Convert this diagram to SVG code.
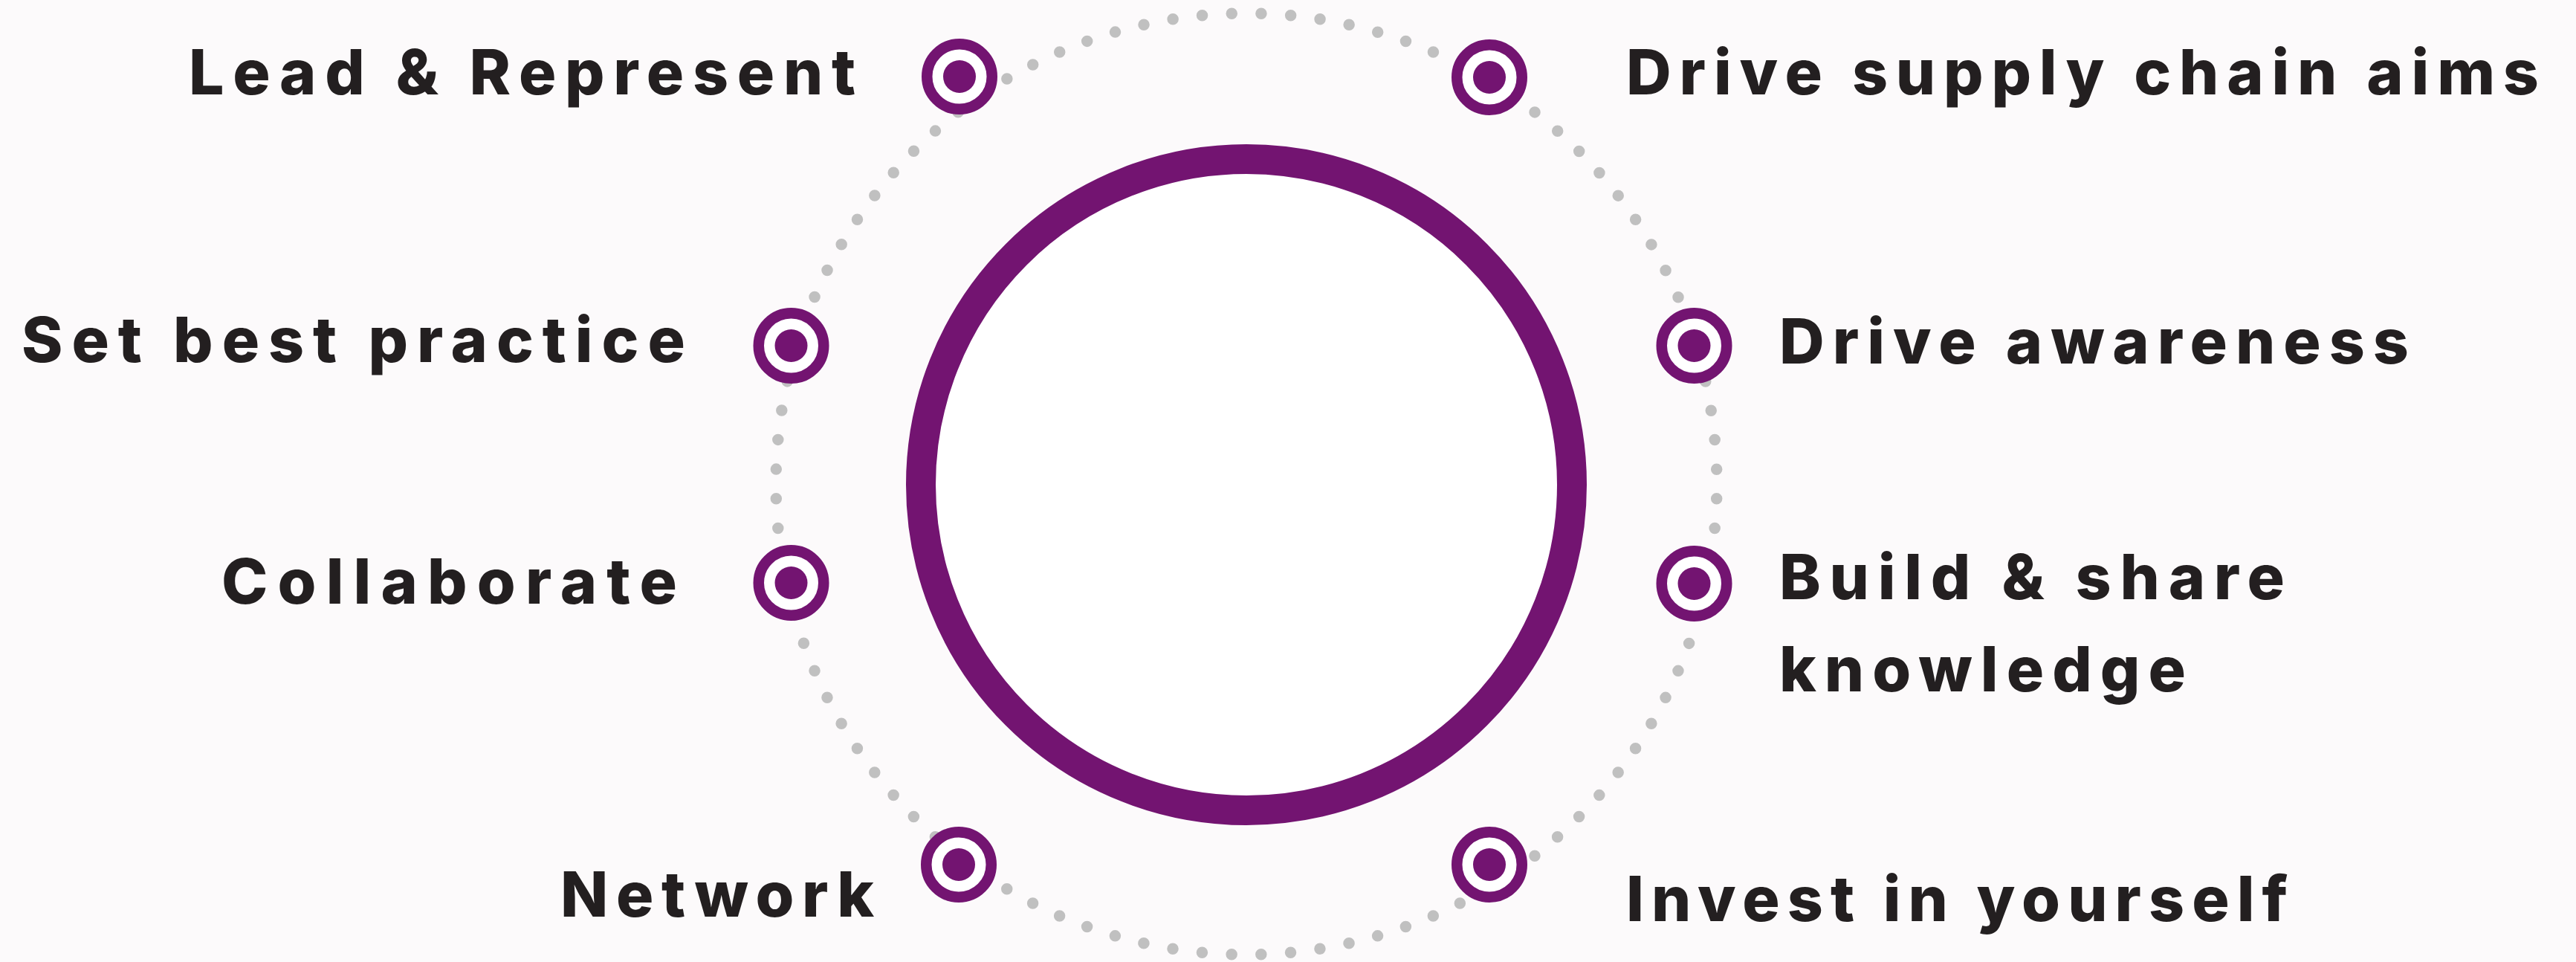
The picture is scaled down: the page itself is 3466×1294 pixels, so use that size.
<svg xmlns="http://www.w3.org/2000/svg" width="3466" height="1294" viewBox="0 0 3466 1294">
  <style>
    .bg { fill: #FCFAFB; }
    .orbit { fill: none; stroke: #C0C0C0; stroke-width: 15.5; stroke-linecap: round; stroke-dasharray: 0 39.77; stroke-dashoffset: 19.9; }
    .hub { fill: #FFFFFF; stroke: #731471; stroke-width: 40; }
    .ring { fill: #FFFFFF; stroke: #731471; stroke-width: 14.5; }
    .dot { fill: #731471; }
    .label { font-family: "Inter", "Liberation Sans", sans-serif; font-weight: 800; font-size: 84px; fill: #231F20; }
  </style>
  <defs>
    <g id="target">
      <circle class="ring" cx="0" cy="0" r="43.75"/>
      <circle class="dot" cx="0" cy="0" r="22"/>
    </g>
  </defs>
  <rect class="bg" x="0" y="0" width="3466" height="1294"/>

  <g id="connectors">
    <circle class="orbit" cx="1677" cy="651" r="633"/>
  </g>

  <g id="hub">
    <circle class="hub" cx="1677" cy="652" r="438"/>
  </g>

  <g id="node-lead-represent">
    <use href="#target" x="1291" y="103"/>
    <text class="label" x="254" y="127" textLength="897" lengthAdjust="spacing">Lead &amp; Represent</text>
  </g>
  <g id="node-drive-supply-chain-aims">
    <use href="#target" x="2004" y="104"/>
    <text class="label" x="2188" y="127" textLength="1228" lengthAdjust="spacing">Drive supply chain aims</text>
  </g>
  <g id="node-set-best-practice">
    <use href="#target" x="1064.5" y="465"/>
    <text class="label" x="29" y="487" textLength="893" lengthAdjust="spacing">Set best practice</text>
  </g>
  <g id="node-drive-awareness">
    <use href="#target" x="2279.5" y="465"/>
    <text class="label" x="2394" y="489" textLength="847" lengthAdjust="spacing">Drive awareness</text>
  </g>
  <g id="node-collaborate">
    <use href="#target" x="1064.5" y="784"/>
    <text class="label" x="298" y="812" textLength="613" lengthAdjust="spacing">Collaborate</text>
  </g>
  <g id="node-build-share-knowledge">
    <use href="#target" x="2279.5" y="785"/>
    <text class="label" x="2394" y="806" textLength="680" lengthAdjust="spacing">Build &amp; share</text>
    <text class="label" x="2394" y="930" textLength="547" lengthAdjust="spacing">knowledge</text>
  </g>
  <g id="node-network">
    <use href="#target" x="1290" y="1163"/>
    <text class="label" x="754" y="1233" textLength="422" lengthAdjust="spacing">Network</text>
  </g>
  <g id="node-invest-in-yourself">
    <use href="#target" x="2004" y="1163"/>
    <text class="label" x="2188" y="1239" textLength="890" lengthAdjust="spacing">Invest in yourself</text>
  </g>
</svg>
